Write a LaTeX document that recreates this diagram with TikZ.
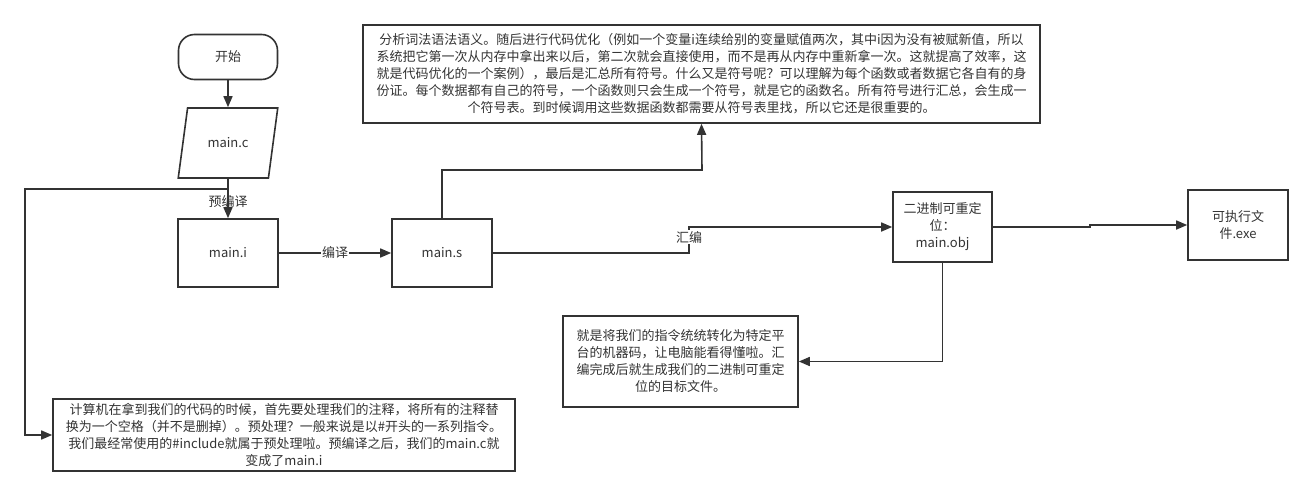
\documentclass[tikz,border=0pt]{standalone}
\usepackage{fontspec}
\setmainfont{Noto Sans CJK SC}
\usetikzlibrary{arrows.meta,shapes.geometric}
\definecolor{ink}{HTML}{333333}
\tikzset{
  every node/.style={font=\fontsize{13}{17}\selectfont, text=ink},
  procbox/.style={draw=ink, line width=1.6pt, align=center, inner sep=2pt},
  startbox/.style={procbox, rounded corners=16pt, minimum width=99pt, minimum height=45pt},
  iobox/.style={procbox, trapezium, trapezium left angle=70, trapezium right angle=110,
    trapezium stretches=true, minimum width=100pt, minimum height=70pt},
  flow/.style={draw=ink, line width=1.6pt, -{Triangle[length=11pt,width=9pt]}},
  lbl/.style={fill=white, inner sep=1pt},
}
\begin{document}
\begin{tikzpicture}[x=1pt, y=-1pt]
        \useasboundingbox (0,0) rectangle (1313,498);
        % steps of the build
        \node[startbox] (start) at (228,57) {开始};
        \node[iobox] (mainc) at (228,143) {main.c};
        \node[procbox, minimum width=100pt, minimum height=68pt] (maini) at (228,253) {main.i};
        \node[procbox, minimum width=100pt, minimum height=68pt] (mains) at (442,253) {main.s};
        \node[procbox, minimum width=99pt, minimum height=70pt] (obj) at (942.5,227) {二进制可重定\\位：\\main.obj};
        \node[procbox, minimum width=100pt, minimum height=70pt] (exe) at (1238,225) {可执行文\\件.exe};
        % notes
        \node[procbox, minimum width=677pt, minimum height=98pt] (analysis) at (701.5,74) {分析词法语法语义。随后进行代码优化（例如一个变量i连续给别的变量赋值两次，其中i因为没有被赋新值，所以\\系统把它第一次从内存中拿出来以后，第二次就会直接使用，而不是再从内存中重新拿一次。这就提高了效率，这\\就是代码优化的一个案例），最后是汇总所有符号。什么又是符号呢？可以理解为每个函数或者数据它各自有的身\\份证。每个数据都有自己的符号，一个函数则只会生成一个符号，就是它的函数名。所有符号进行汇总，会生成一\\个符号表。到时候调用这些数据函数都需要从符号表里找，所以它还是很重要的。};
        \node[procbox, minimum width=235pt, minimum height=91pt] (asm) at (680.5,361.5) {就是将我们的指令统统转化为特定平\\台的机器码，让电脑能看得懂啦。汇\\编完成后就生成我们的二进制可重定\\位的目标文件。};
        \node[procbox, minimum width=462pt, minimum height=72pt] (note) at (284,435) {计算机在拿到我们的代码的时候，首先要处理我们的注释，将所有的注释替\\换为一个空格（并不是删掉）。预处理？一般来说是以\#开头的一系列指令。\\我们最经常使用的\#include就属于预处理啦。预编译之后，我们的main.c就\\变成了main.i};
        % bends
        \coordinate (split) at (228,189);
        \coordinate (lcorner) at (25,189);
        \coordinate (upbend) at (702,170);
        \coordinate (asmbend) at (689,253);
        \coordinate (exebend) at (1090,227);
        % connectors
        \draw[flow] (start) -- (mainc);
        \draw[flow] (mainc) -- node[pos=0.58] {预编译} (maini);
        \draw[flow] (split) -- (lcorner) |- (note.west);
        \draw[flow] (maini) -- node[lbl] {编译} (mains);
        \draw[flow] (mains.north) |- (upbend) -- (analysis.south);
        \draw[flow] (mains.east) -- (asmbend) |- node[lbl, pos=0.3] {汇编} (obj.west);
        \draw[flow] (obj.east) -- (exebend) |- (exe.west);
        \draw[flow] (obj.south) |- (asm.east);
    \end{tikzpicture}
\end{document}
